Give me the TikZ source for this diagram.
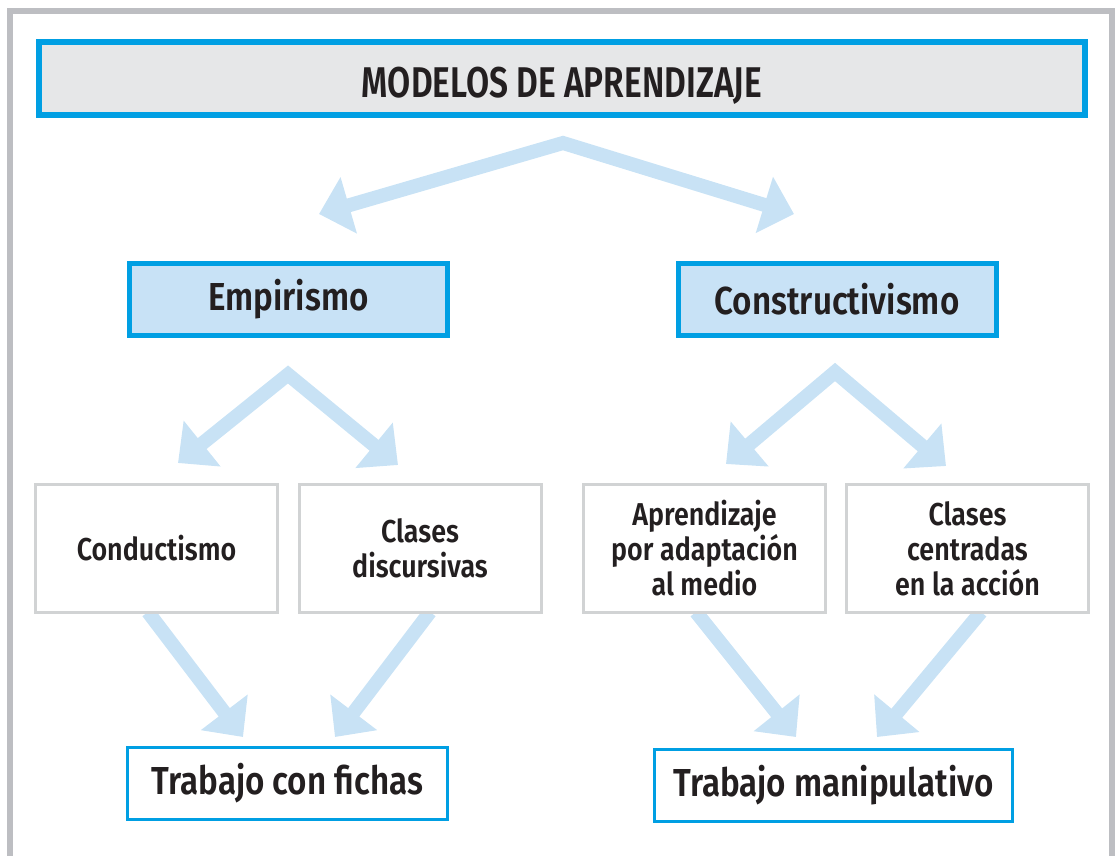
\documentclass[tikz,border=0pt]{standalone}
\usepackage{fontspec}
\setmainfont{Fira Sans}[BoldFont={Fira Sans SemiBold}, FakeStretch=0.85]
\usetikzlibrary{arrows.meta}
\definecolor{frame}{HTML}{BDBEC2}
\definecolor{bblue}{HTML}{009FE3}
\definecolor{lblue}{HTML}{C8E2F6}
\definecolor{arr}{HTML}{C8E2F5}
\definecolor{gfill}{HTML}{E6E7E8}
\definecolor{gline}{HTML}{D1D3D4}
\definecolor{ink}{HTML}{231F20}
\tikzset{
  base/.style={rectangle, inner sep=0pt, align=center, text=ink, font=\bfseries},
  titlebox/.style={base, draw=bblue, line width=3pt, fill=gfill, minimum width=523pt, minimum height=36.5pt, font=\bfseries\fontsize{21.5}{26}\selectfont\addfontfeature{FakeStretch=0.78}},
  mainbox/.style={base, draw=bblue, line width=2.5pt, fill=lblue, minimum width=159pt, minimum height=36pt, font=\bfseries\fontsize{19.5}{23}\selectfont},
  subbox/.style={base, draw=gline, line width=1.5pt, fill=white, minimum width=121pt, minimum height=64pt, font=\bfseries\fontsize{15.8}{17.5}\selectfont},
  endbox/.style={base, draw=bblue, line width=1.5pt, fill=white, minimum height=36pt, font=\bfseries\fontsize{19.5}{23}\selectfont},
  bigarrow/.style={draw=arr, line width=7pt, line join=miter, -{Triangle[width=28.5pt, length=15.5pt]}},
  dblarrow/.style={draw=arr, line width=7pt, line join=miter, {Triangle[width=28.5pt, length=15.5pt]}-{Triangle[width=28.5pt, length=15.5pt]}}
}
\begin{document}
\begin{tikzpicture}[x=0.5pt, y=-0.5pt]
\useasboundingbox (0,0) rectangle (1115,856);
\begin{scope}
\clip (0,0) rectangle (1115,856);
\draw[frame, line width=3pt] (10,870) -- (10,11) -- (1112,11) -- (1112,870);
\end{scope}

% coordinates for arrows
\coordinate (a0) at (563,143);
\coordinate (a0l) at (319,214);
\coordinate (a0r) at (794,214);
\coordinate (a1) at (288,374.5);
\coordinate (a1l) at (178,463);
\coordinate (a1r) at (398,465);
\coordinate (a2) at (835,372);
\coordinate (a2l) at (726,464);
\coordinate (a2r) at (946,466);
\coordinate (s1) at (148,612);
\coordinate (t1) at (243,737);
\coordinate (s2) at (430,612);
\coordinate (t2) at (335,737);
\coordinate (s3) at (696,612);
\coordinate (t3) at (796,737);
\coordinate (s4) at (981,612);
\coordinate (t4) at (877,737);

\draw[dblarrow] (a0l) -- (a0) -- (a0r);
\draw[dblarrow] (a1l) -- (a1) -- (a1r);
\draw[dblarrow] (a2l) -- (a2) -- (a2r);
\draw[bigarrow] (s1) -- (t1);
\draw[bigarrow] (s2) -- (t2);
\draw[bigarrow] (s3) -- (t3);
\draw[bigarrow] (s4) -- (t4);

\node[titlebox] (title) at (562,78.5) {\raisebox{-2pt}[\height][0pt]{MODELOS DE APRENDIZAJE}};
\node[mainbox] (emp) at (288.5,299) {Empirismo};
\node[mainbox] (con) at (837,299) {Constructivismo};
\node[subbox] (cond) at (156.5,548.5) {Conductismo};
\node[subbox] (cdis) at (420,548.5) {Clases\\discursivas};
\node[subbox] (apr) at (704.5,548.5) {Aprendizaje\\por adaptación\\al medio};
\node[subbox] (ccen) at (967.5,548.5) {Clases\\centradas\\en la acción};
\node[endbox, minimum width=160pt] (fichas) at (287.5,783.5) {Trabajo con fichas};
\node[endbox, minimum width=179pt] (manip) at (833.5,785.5) {Trabajo manipulativo};
\end{tikzpicture}
\end{document}
